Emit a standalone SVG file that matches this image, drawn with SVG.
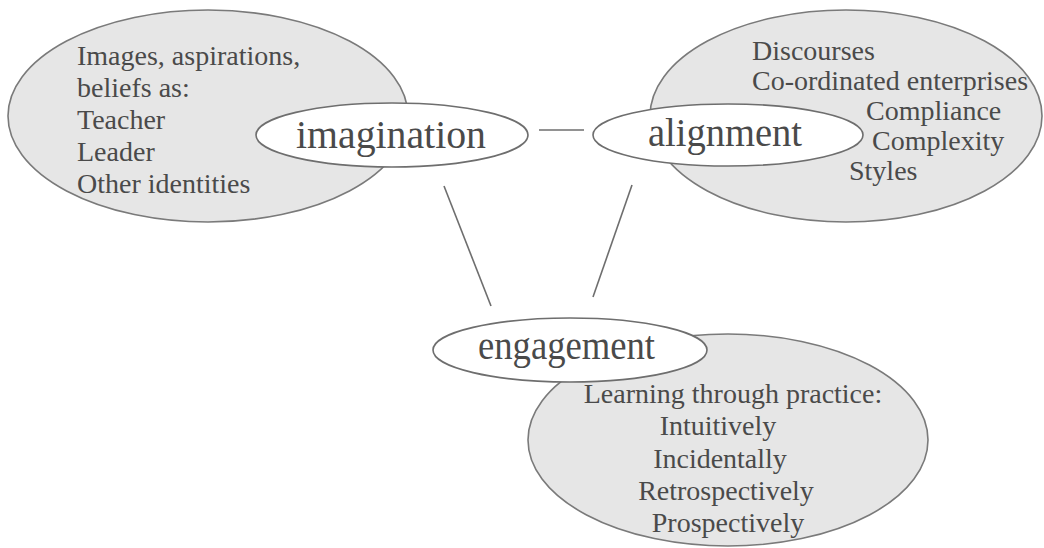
<svg xmlns="http://www.w3.org/2000/svg" width="1044" height="548" viewBox="0 0 1044 548">
  <style>
    .cloud { fill: #e6e6e6; stroke: #7a7a7a; stroke-width: 1.6; }
    .core { fill: #ffffff; stroke: #6e6e6e; stroke-width: 1.6; }
    .item { font-family: 'Liberation Serif', 'Times New Roman', Tinos, 'DejaVu Serif', serif; font-size: 28px; fill: #4a4a4a; }
    .mid { text-anchor: middle; }
    .label { font-family: 'Liberation Serif', 'Times New Roman', Tinos, 'DejaVu Serif', serif; font-size: 41px; fill: #4a4a4a; }
    .link { stroke: #6e6e6e; stroke-width: 1.6; fill: none; }
  </style>
  <rect width="1044" height="548" fill="#ffffff"/>

  <!-- connectors between the three modes -->
  <g id="connectors">
    <line class="link" x1="539" y1="130" x2="584" y2="130"/>
    <line class="link" x1="444" y1="186" x2="491" y2="306"/>
    <line class="link" x1="632" y1="185" x2="593" y2="297"/>
  </g>

  <!-- imagination -->
  <g id="node-imagination">
    <ellipse class="cloud" cx="208" cy="116" rx="200" ry="106"/>
    <text class="item" x="77" y="65">Images, aspirations,</text>
    <text class="item" x="77" y="97">beliefs as:</text>
    <text class="item" x="77" y="129">Teacher</text>
    <text class="item" x="77" y="161">Leader</text>
    <text class="item" x="77" y="193">Other identities</text>
    <ellipse class="core" cx="392" cy="135" rx="136" ry="32"/>
    <text class="label" x="296" y="148" textLength="190" lengthAdjust="spacingAndGlyphs">imagination</text>
  </g>

  <!-- alignment -->
  <g id="node-alignment">
    <ellipse class="cloud" cx="846" cy="116" rx="196" ry="106"/>
    <text class="item" x="752" y="60">Discourses</text>
    <text class="item" x="752" y="90">Co-ordinated enterprises</text>
    <text class="item" x="866" y="120">Compliance</text>
    <text class="item" x="872" y="150">Complexity</text>
    <text class="item" x="849" y="180">Styles</text>
    <ellipse class="core" cx="728" cy="135" rx="135" ry="31"/>
    <text class="label" x="648" y="146" textLength="154" lengthAdjust="spacingAndGlyphs">alignment</text>
  </g>

  <!-- engagement -->
  <g id="node-engagement">
    <ellipse class="cloud" cx="728" cy="440" rx="200" ry="106"/>
    <text class="item mid" x="733" y="403">Learning through practice:</text>
    <text class="item mid" x="718" y="435">Intuitively</text>
    <text class="item mid" x="720" y="468">Incidentally</text>
    <text class="item mid" x="726" y="500">Retrospectively</text>
    <text class="item mid" x="728" y="532">Prospectively</text>
    <ellipse class="core" cx="570" cy="350" rx="137" ry="32"/>
    <text class="label" x="478" y="359" textLength="177" lengthAdjust="spacingAndGlyphs">engagement</text>
  </g>
</svg>
